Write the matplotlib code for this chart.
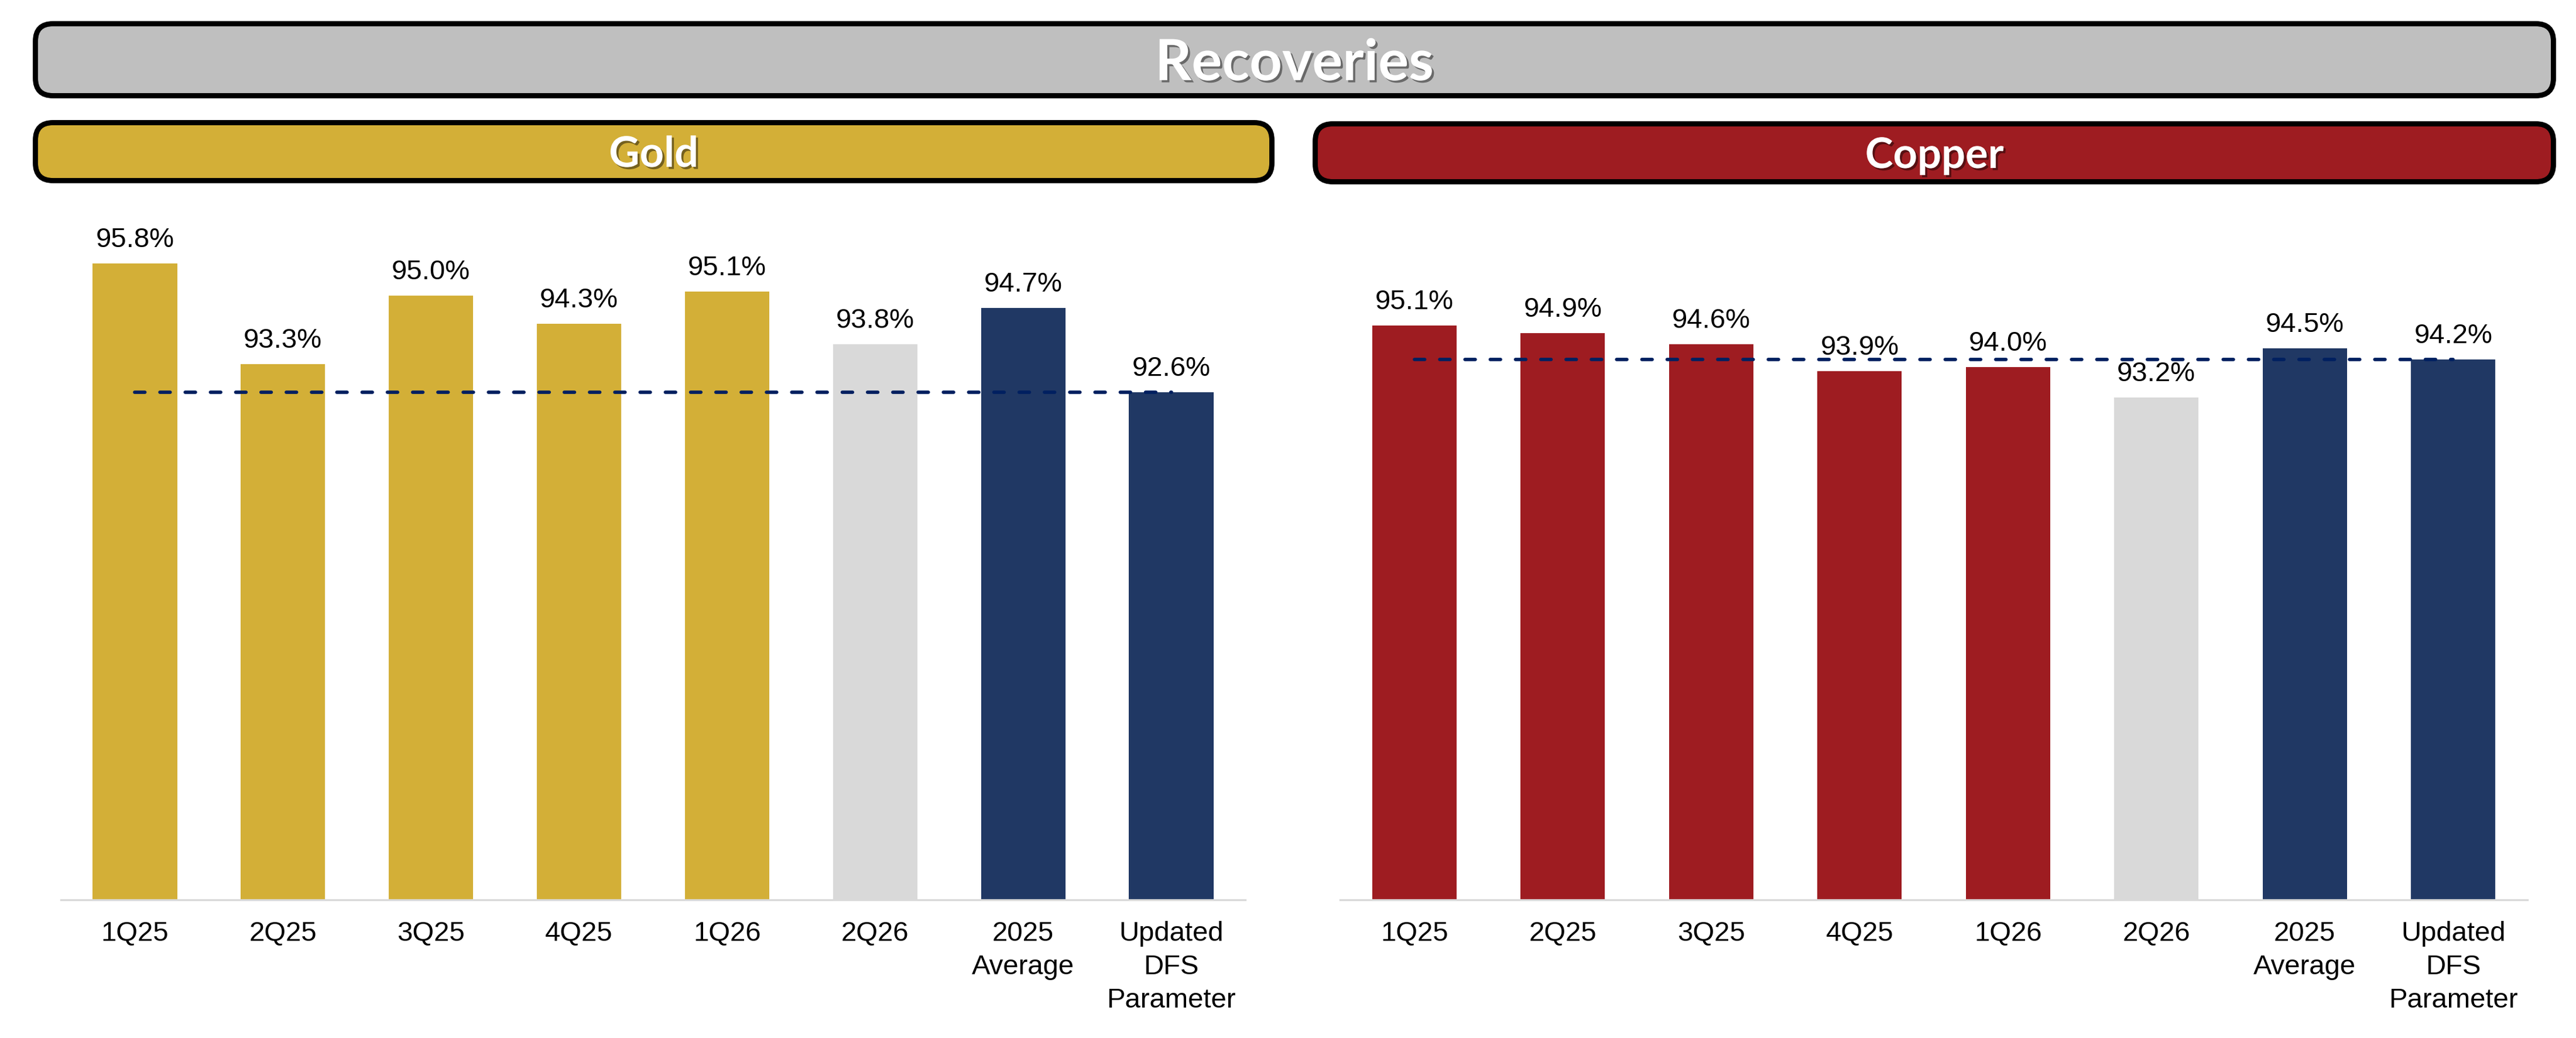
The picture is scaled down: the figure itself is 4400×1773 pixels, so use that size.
import matplotlib

matplotlib.use("Agg")
import matplotlib.pyplot as plt
from matplotlib.patches import FancyBboxPatch
import matplotlib.patheffects as pe

# chart data
categories = ["1Q25", "2Q25", "3Q25", "4Q25", "1Q26", "2Q26",
              "2025\nAverage", "Updated\nDFS\nParameter"]
gold_values = [95.8, 93.3, 95.0, 94.3, 95.1, 93.8, 94.7, 92.6]
copper_values = [95.1, 94.9, 94.6, 93.9, 94.0, 93.2, 94.5, 94.2]

GOLD = "#D3AF37"
COPPER = "#9E1C21"
NAVY = "#203864"
LIGHT = "#D9D9D9"
DASH = "#002060"
BANNER_GRAY = "#BFBFBF"

W, H = 4400, 1773
fig = plt.figure(figsize=(22, 8.865), dpi=200)

# background axes in pixel units for the banners
bg = fig.add_axes([0, 0, 1, 1])
bg.set_xlim(0, W)
bg.set_ylim(H, 0)
bg.axis("off")

shadow = [pe.withSimplePatchShadow(offset=(1.3, -1.3), shadow_rgbFace="black", alpha=0.45)]


def banner(x0, y0, x1, y1, color, label, size, baseline):
    box = FancyBboxPatch((x0, y0), x1 - x0, y1 - y0,
                         boxstyle="round,pad=0,rounding_size=30",
                         fc=color, ec="black", lw=3.2)
    bg.add_patch(box)
    bg.text((x0 + x1) / 2, baseline, label, ha="center", va="baseline",
            fontsize=size, fontweight="bold", family="Lato", color="white",
            path_effects=shadow)


banner(60.5, 40.5, 4361.5, 163.5, BANNER_GRAY, "Recoveries", 35, 137)
banner(60.5, 209.5, 2172.5, 308.5, GOLD, "Gold", 26, 285)
banner(2246.5, 211.5, 4361.5, 310.5, COPPER, "Copper", 26, 287)


def panel(ax, values, main_color, ytop):
    x = list(range(len(categories)))
    colors = [main_color] * 5 + [LIGHT] + [NAVY] * 2
    ax.bar(x, values, width=0.57, color=colors, zorder=2)
    ax.set_xlim(-0.5, len(categories) - 0.5)
    ax.set_ylim(80, ytop)
    for i, v in enumerate(values):
        ax.annotate(f"{v:.1f}%", (i, v), xytext=(0, 10), textcoords="offset points",
                    ha="center", va="baseline", fontsize=17, family="Liberation Sans")
    # dashed reference at the DFS parameter level
    ax.plot([x[0], x[-1]], [values[-1], values[-1]], color=DASH, lw=2.1,
            dashes=(3, 4.4), dash_capstyle="round", zorder=3)
    for s in ["top", "left", "right"]:
        ax.spines[s].set_visible(False)
    ax.spines["bottom"].set_color(LIGHT)
    ax.spines["bottom"].set_linewidth(1.2)
    ax.set_yticks([])
    ax.set_xticks(x)
    ax.set_xticklabels(categories, fontsize=17, family="Liberation Sans", linespacing=1.38)
    ax.tick_params(axis="x", length=0, pad=13)
    ax.patch.set_alpha(0)


ax_g = fig.add_axes([104 / W, (H - 1537) / H, 2023 / W, 1157 / H])
panel(ax_g, gold_values, GOLD, 80 + 1157 / 68.8)

ax_c = fig.add_axes([2289 / W, (H - 1537) / H, 2028 / W, 1157 / H])
panel(ax_c, copper_values, COPPER, 80 + 1157 / 65.0)

fig.savefig("out.png", dpi=200)
